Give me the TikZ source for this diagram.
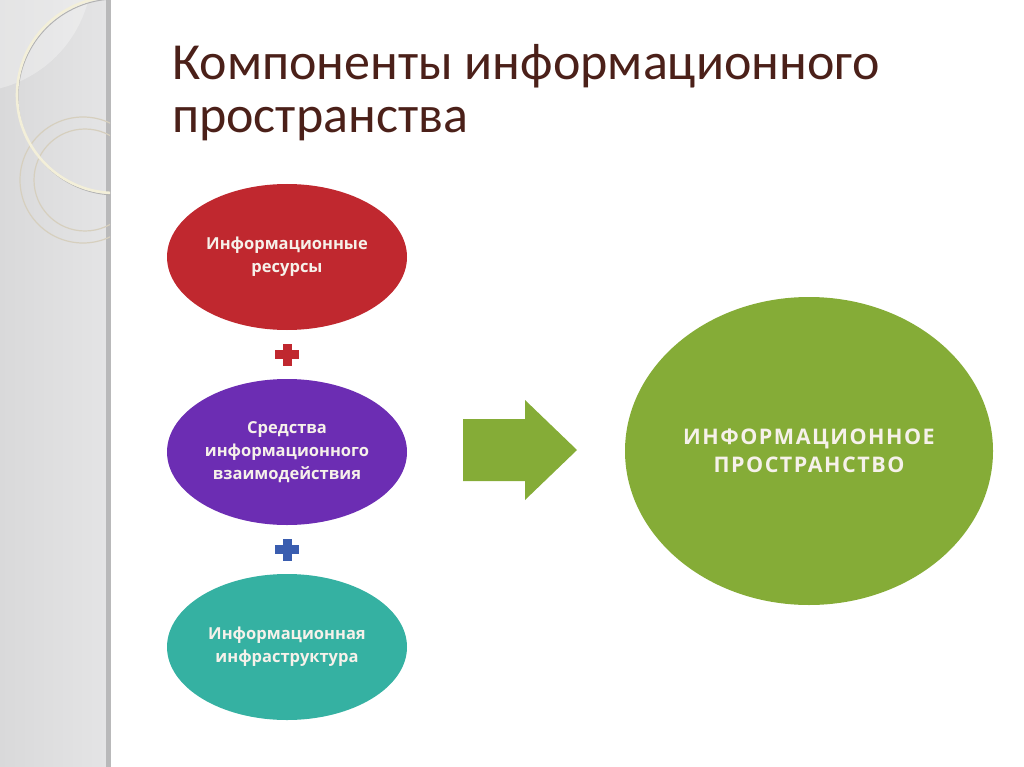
\documentclass[tikz,border=0pt]{standalone}
\usepackage{fontspec}
\setmainfont{Open Sans}
\newfontfamily\titlefont{Carlito}
\newfontfamily\capsfont[LetterSpace=7]{Open Sans}
\usetikzlibrary{shapes.geometric,positioning,calc}
\definecolor{bandgray}{HTML}{D9D9DA}
\definecolor{bandlight}{HTML}{E4E4E5}
\definecolor{banddark}{HTML}{B9B9BA}
\definecolor{ringcream}{HTML}{F3EFD9}
\definecolor{ringtan}{HTML}{D6CFBE}
\definecolor{titlebrown}{HTML}{4B2019}
\definecolor{resred}{HTML}{C0282F}
\definecolor{toolpurple}{HTML}{6C2DB3}
\definecolor{infteal}{HTML}{35B1A2}
\definecolor{spacegreen}{HTML}{85AC37}
\definecolor{plusblue}{HTML}{3A5DAF}
\definecolor{labelwhite}{HTML}{F6F1EA}
\newcommand{\plusmark}[2]{%
  \fill[#2] ($(#1)+(-12,-4.5)$) rectangle ($(#1)+(12,4.5)$);
  \fill[#2] ($(#1)+(-4.5,-11)$) rectangle ($(#1)+(4.5,11)$);}

\begin{document}
\begin{tikzpicture}[x=1pt, y=-1pt, node distance=195pt]
    \tikzset{part/.style={ellipse, minimum width=240pt, minimum height=146pt,
                          inner sep=0pt, align=center, text=labelwhite,
                          font=\bfseries\fontsize{16.5}{23}\selectfont}}
    \useasboundingbox (0,0) rectangle (1024,767);
    % left band with rings
    \shade[left color=bandgray, right color=bandlight] (0,0) rectangle (106,767);
    \fill[banddark] (106,0) rectangle (111,767);
    \begin{scope}
        \clip (0,0) rectangle (110,767);
        \fill[white, opacity=0.3] (-30,-30) circle (122);
        \draw[ringtan, line width=1.2pt] (83,180) circle (63);
        \draw[ringtan, line width=1.2pt] (85,180) circle (51);
        \draw[gray!60, line width=1pt] (116,97) circle (98);
        \draw[ringcream, line width=2.6pt] (115,95) circle (98);
    \end{scope}
    % title
    \node[anchor=base west, inner sep=0pt, text=titlebrown,
          font=\titlefont\fontsize{52}{52}\selectfont] (t1) at (172,80)
          {Компоненты информационного};
    \node[anchor=base west, inner sep=0pt, text=titlebrown,
          font=\titlefont\fontsize{52}{52}\selectfont] (t2) at (172,133)
          {пространства};
    % components
    \node[part, fill=resred]                   (res)   at (287,257)
          {Информационные\\ресурсы};
    \node[part, fill=toolpurple, below of=res] (tools)
          {Средства\\информационного\\взаимодействия};
    \node[part, fill=infteal, below of=tools]  (infra)
          {Информационная\\инфраструктура};
    \coordinate (p1) at ($(res)!0.5!(tools)$);
    \coordinate (p2) at ($(tools)!0.5!(infra)$);
    \plusmark{p1}{resred}
    \plusmark{p2}{plusblue}
    % result
    \node[ellipse, fill=spacegreen, minimum width=368pt, minimum height=308pt,
          inner sep=0pt, align=center, text=labelwhite,
          font=\capsfont\bfseries\fontsize{21.5}{28}\selectfont] (space) at (809,451)
          {ИНФОРМАЦИОННОЕ\\ПРОСТРАНСТВО};
    \coordinate (ar) at (463,450);
    \fill[spacegreen] ($(ar)+(0,-31)$) -- ++(62,0) -- ++(0,-19) -- ($(ar)+(114,0)$)
        -- ($(ar)+(62,50)$) -- ++(0,-19) -- ++(-62,0) -- cycle;
\end{tikzpicture}
\end{document}
